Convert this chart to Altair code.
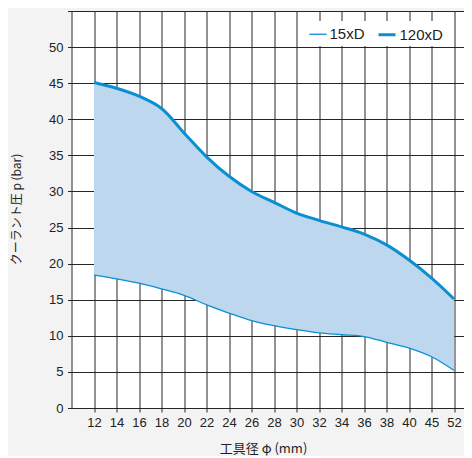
import altair as alt
import pandas as pd

# Tool diameter labels (equally spaced categories)
x_labels = ["12", "14", "16", "18", "20", "22", "24", "26", "28", "30",
            "32", "34", "36", "38", "40", "45", "52"]
# Coolant pressure (bar)
p_15xD = [18.4, 17.9, 17.3, 16.5, 15.6, 14.3, 13.15, 12.1, 11.4, 10.85,
          10.4, 10.15, 9.9, 9.1, 8.3, 7.1, 5.2]
p_120xD = [45.1, 44.3, 43.2, 41.5, 38.1, 34.8, 32.1, 30.0, 28.5, 27.0,
           26.0, 25.1, 24.1, 22.6, 20.5, 18.0, 15.1]
series_names = ["15xD", "120xD"]

LINE = "#0a90d2"
FILL = "#bdd7ee"
GRID = "#262626"
FONT = "Liberation Sans"
CJK = "Noto Sans CJK JP"
INTERP = "catmull-rom"

idx = list(range(len(x_labels)))
wide = pd.DataFrame({"i": idx, "lo": p_15xD, "hi": p_120xD})
long = pd.concat([
    pd.DataFrame({"i": idx, "p": p_15xD, "series": series_names[0]}),
    pd.DataFrame({"i": idx, "p": p_120xD, "series": series_names[1]}),
])

label_arr = "[" + ",".join('"%s"' % s for s in x_labels) + "]"

x_scale = alt.Scale(domain=[-1, 16.44], nice=False, zero=False)
y_scale = alt.Scale(domain=[0, 55], nice=False)

x_axis = alt.Axis(
    values=idx, labelExpr=label_arr + "[datum.value]", labelOverlap=False,
    grid=True, gridColor=GRID, gridWidth=1, gridOpacity=1,
    domainColor=GRID, tickColor=GRID, tickSize=4, labelPadding=4,
    labelFont=FONT, labelFontSize=13, labelColor="#222",
    title="工具径 φ (mm)", titleFont=CJK, titleFontSize=13, titleFontWeight="normal",
    titleColor="#222", titleX=191.5, titleY=40, titleBaseline="middle", titleAlign="center",
)
y_axis = alt.Axis(
    values=list(range(0, 60, 5)), labelOverlap=False,
    labelExpr="datum.value == 55 ? '' : datum.label",
    grid=True, gridColor=GRID, gridWidth=1, gridOpacity=1,
    domainColor=GRID, tickColor=GRID, tickSize=4, labelPadding=4.5,
    labelFont=FONT, labelFontSize=13, labelColor="#222",
    title="クーラント圧 p (bar)", titleFont=CJK, titleFontSize=12, titleFontWeight="normal",
    titleColor="#222", titleX=-55, titleY=198, titleBaseline="middle", titleAlign="center",
    titleAngle=270,
)

band = alt.Chart(wide).mark_area(interpolate=INTERP, color=FILL, opacity=1).encode(
    x=alt.X("i:Q", scale=x_scale, axis=x_axis),
    y=alt.Y("lo:Q", scale=y_scale, axis=y_axis),
    y2="hi:Q",
)

lines = alt.Chart(long).mark_line(interpolate=INTERP, color=LINE).encode(
    x=alt.X("i:Q", scale=x_scale, axis=x_axis),
    y=alt.Y("p:Q", scale=y_scale, axis=y_axis),
    detail="series:N",
    strokeWidth=alt.StrokeWidth(
        "series:N",
        scale=alt.Scale(domain=series_names, range=[1.3, 3.0]),
        legend=alt.Legend(
            title=None, orient="none", direction="horizontal",
            legendX=234, legendY=10, fillColor="white", padding=3,
            symbolType="stroke", symbolStrokeColor=LINE, symbolSize=290,
            labelFont=FONT, labelFontSize=15, labelColor="#222",
            labelOffset=2, columnPadding=6, symbolOffset=0,
        ),
    ),
)

chart = alt.layer(band, lines).properties(
    width=392.5, height=397,
    autosize=alt.AutoSizeParams(type="none"),
    padding={"left": 63.5, "top": 3, "right": 0, "bottom": 48},
    background="#f3f3f3",
).configure_view(fill="white", stroke=None)

chart.save("out.html", embed_options={"renderer": "svg", "actions": False})
